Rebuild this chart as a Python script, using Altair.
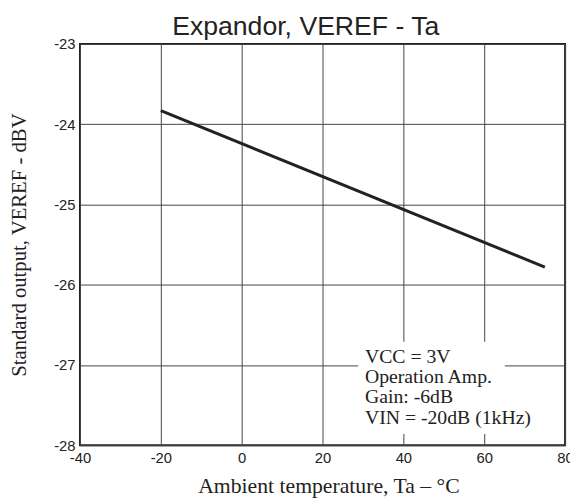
import altair as alt
import pandas as pd

# ---- data ----
line_temp = [-20, 75]
line_veref = [-23.83, -25.78]

x_ticks = [-40, -20, 0, 20, 40, 60, 80]
y_ticks = [-28, -27, -26, -25, -24, -23]

note_lines = ["VCC = 3V", "Operation Amp.", "Gain: -6dB", "VIN = -20dB (1kHz)"]
note_y = [-26.90, -27.15, -27.40, -27.66]
note_x = [30.5, 30.5, 30.5, 30.5]

box_x = [28.8, 65.1]
box_y = [-26.71, -27.86]

chart_title = "Expandor, VEREF - Ta"
x_title = "Ambient temperature, Ta \u2013  \u00b0C"
y_title = "Standard output, VEREF - dBV"

SERIF = "Liberation Serif"
SANS = "Liberation Sans"
INK = "#222222"

line_df = pd.DataFrame({"temp": line_temp, "veref": line_veref})
note_df = pd.DataFrame({"temp": note_x, "veref": note_y, "label": note_lines})
box_df = pd.DataFrame({"x1": [box_x[0]], "x2": [box_x[1]], "y1": [box_y[0]], "y2": [box_y[1]]})
title_df = pd.DataFrame({"t": [chart_title]})

xscale = alt.Scale(domain=[-40, 80], nice=False, zero=False)
yscale = alt.Scale(domain=[-28, -23], nice=False, zero=False)

label_expr = "'' + datum.value"

xaxis = alt.Axis(
    values=x_ticks, title=x_title, ticks=False, domain=False, labelExpr=label_expr,
    grid=True, gridColor="#444444", gridWidth=1, gridOpacity=1,
    labelFont=SANS, labelFontSize=15, labelColor=INK, labelPadding=5,
    labelFlush=False, labelOverlap=False,
    titleFont=SERIF, titleFontSize=22, titleFontWeight="normal", titleColor=INK,
    titleX=252, titleY=41, titleBaseline="middle", titleAlign="center",
)
yaxis = alt.Axis(
    values=y_ticks, title=y_title, ticks=False, domain=False, labelExpr=label_expr,
    grid=True, gridColor="#444444", gridWidth=1, gridOpacity=1,
    labelFont=SANS, labelFontSize=15, labelColor=INK, labelPadding=5,
    labelFlush=False, labelOverlap=False,
    titleFont=SERIF, titleFontSize=21, titleFontWeight="normal", titleColor=INK,
    titleX=-61, titleY=203.5, titleAngle=-90, titleBaseline="middle", titleAlign="center",
)

line = alt.Chart(line_df).mark_line(color=INK, strokeWidth=3).encode(
    x=alt.X("temp:Q", scale=xscale, axis=xaxis),
    y=alt.Y("veref:Q", scale=yscale, axis=yaxis),
)

box = alt.Chart(box_df).mark_rect(color="white", opacity=1).encode(
    x="x1:Q", x2="x2:Q", y="y1:Q", y2="y2:Q",
)

notes = alt.Chart(note_df).mark_text(
    font=SERIF, fontSize=20, color=INK, align="left", baseline="middle"
).encode(x="temp:Q", y="veref:Q", text="label:N")

title = alt.Chart(title_df).mark_text(
    font=SANS, fontSize=27, color=INK, align="center", baseline="alphabetic"
).encode(x=alt.value(229), y=alt.value(-9), text="t:N")

chart = alt.layer(line, box, notes, title).properties(
    width=492, height=407,
    autosize=alt.AutoSizeParams(type="none"),
    padding={"left": 73, "top": 33, "right": 5, "bottom": 51},
    background="white",
).configure_view(stroke=INK, strokeWidth=2)

chart.save("out.html", embed_options={"renderer": "svg", "actions": False})
